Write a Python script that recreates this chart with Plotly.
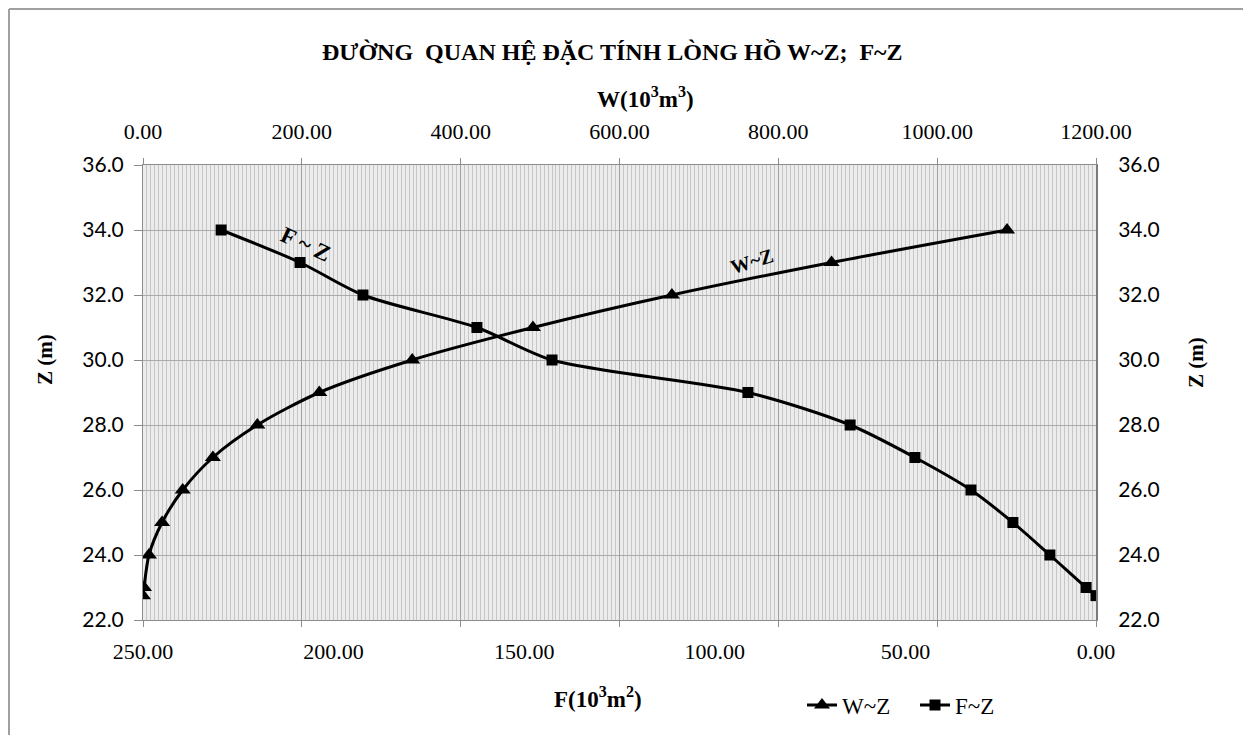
import plotly.graph_objects as go

# Data
Z_levels = [34, 33, 32, 31, 30, 29, 28, 27, 26, 25, 24, 23, 22.75]
W_values = [1088, 867, 666, 491, 339, 222, 144, 88, 50, 24, 7.5, 1.3, 0.0]
F_values = [229.5, 208.8, 192.3, 162.4, 142.7, 91.3, 64.5, 47.5, 32.8, 21.8, 12.1, 2.6, 0.0]

W_ticks = [0, 200, 400, 600, 800, 1000, 1200]
F_ticks = [250, 200, 150, 100, 50, 0]
Z_ticks = [22, 24, 26, 28, 30, 32, 34, 36]

SERIF = "Liberation Serif"
SANS = "Lato"

# plot area in page pixels (for placing paper-referenced items)
PL, PR, PT, PB = 143, 1096, 165, 620


def px(x):
    return (x - PL) / (PR - PL)


def py(y):
    return (PB - y) / (PB - PT)


def note(text, x, y, size, angle=0, family=SERIF):
    return dict(text=text, xref="paper", yref="paper", x=px(x), y=py(y),
                xanchor="center", yanchor="middle", showarrow=False, textangle=angle,
                font=dict(family=family, size=size, color="black"))


fig = go.Figure()

fig.add_trace(go.Scatter(
    x=W_values, y=Z_levels, xaxis="x2", yaxis="y", name="W~Z",
    mode="lines+markers", line=dict(color="black", width=3, shape="spline", smoothing=0.8),
    marker=dict(symbol="triangle-up", size=14, color="black"),
))
fig.add_trace(go.Scatter(
    x=F_values, y=Z_levels, xaxis="x", yaxis="y", name="F~Z",
    mode="lines+markers", line=dict(color="black", width=3, shape="spline", smoothing=0.8),
    marker=dict(symbol="square", size=11, color="black"),
))
# invisible trace to activate right axis
fig.add_trace(go.Scatter(x=[None], y=[None], xaxis="x", yaxis="y2", showlegend=False))

fig.update_layout(
    width=1243, height=727,
    margin=dict(l=135, r=155, t=157, b=115, autoexpand=False),
    paper_bgcolor="white", plot_bgcolor="#ececec",
    showlegend=True,
    legend=dict(orientation="h", x=px(802), y=py(705), xanchor="left", yanchor="middle",
                font=dict(family=SERIF, size=23, color="black"), bgcolor="rgba(0,0,0,0)",
                entrywidth=68, entrywidthmode="pixels", tracegroupgap=0),
    xaxis=dict(
        range=[250, 0], tickvals=F_ticks, tickformat=".2f",
        showgrid=False, zeroline=False, showline=True, linecolor="#8c8c8c", linewidth=1,
        ticks="", tickfont=dict(family=SERIF, size=22, color="black"), ticklabelstandoff=12,
    ),
    xaxis2=dict(
        overlaying="x", side="top", range=[0, 1200], tickvals=W_ticks, tickformat=".2f",
        showgrid=True, gridcolor="#a0a0a0", gridwidth=1,
        minor=dict(dtick=5, showgrid=True, gridcolor="#c6c6c6", gridwidth=1),
        zeroline=False, showline=True, linecolor="#8c8c8c", linewidth=1,
        ticks="outside", ticklen=6, tickcolor="#8c8c8c", mirror="ticks",
        tickfont=dict(family=SERIF, size=22, color="black"), ticklabelstandoff=10,
    ),
    yaxis=dict(
        range=[22, 36], tickvals=Z_ticks, tickformat=".1f",
        showgrid=True, gridcolor="#aaaaaa", gridwidth=1.2, zeroline=False,
        showline=True, linecolor="#8c8c8c", linewidth=1,
        ticks="outside", ticklen=8, tickcolor="#8c8c8c",
        tickfont=dict(family=SANS, size=21, color="black"), ticklabelstandoff=6,
    ),
    yaxis2=dict(
        overlaying="y", side="right", range=[22, 36], tickvals=Z_ticks, tickformat=".1f",
        showgrid=False, zeroline=False, showline=True, linecolor="#7a7a7a", linewidth=2,
        ticks="", tickfont=dict(family=SANS, size=21, color="black"), ticklabelstandoff=16,
    ),
    annotations=[
        note("<b>ĐƯỜNG  QUAN HỆ ĐẶC TÍNH LÒNG HỒ W~Z;  F~Z</b>", 612, 52, 24),
        note("<b>W(10<sup>3</sup>m<sup>3</sup>)</b>", 645, 97, 23),
        note("<b>F(10<sup>3</sup>m<sup>2</sup>)</b>", 598, 697, 23),
        note("<b>Z (m)</b>", 45, 360, 21, -90),
        note("<b>Z (m)</b>", 1196, 363, 21, -90),
        note("<b>F ~ Z</b>", 306, 244, 23, 25),
        note("<b>W~Z</b>", 752, 261, 20, -17),
    ],
    shapes=[
        dict(type="line", xref="paper", yref="paper", x0=px(9), x1=px(9),
             y0=py(9), y1=py(735), line=dict(color="#a0a0a0", width=2)),
        dict(type="line", xref="paper", yref="paper", x0=px(9), x1=px(1246),
             y0=py(9), y1=py(9), line=dict(color="#a0a0a0", width=2)),
        dict(type="line", xref="paper", yref="paper", x0=px(1246), x1=px(1246),
             y0=py(9), y1=py(735), line=dict(color="#a0a0a0", width=2)),
    ],
)

fig.write_html("out.html")
